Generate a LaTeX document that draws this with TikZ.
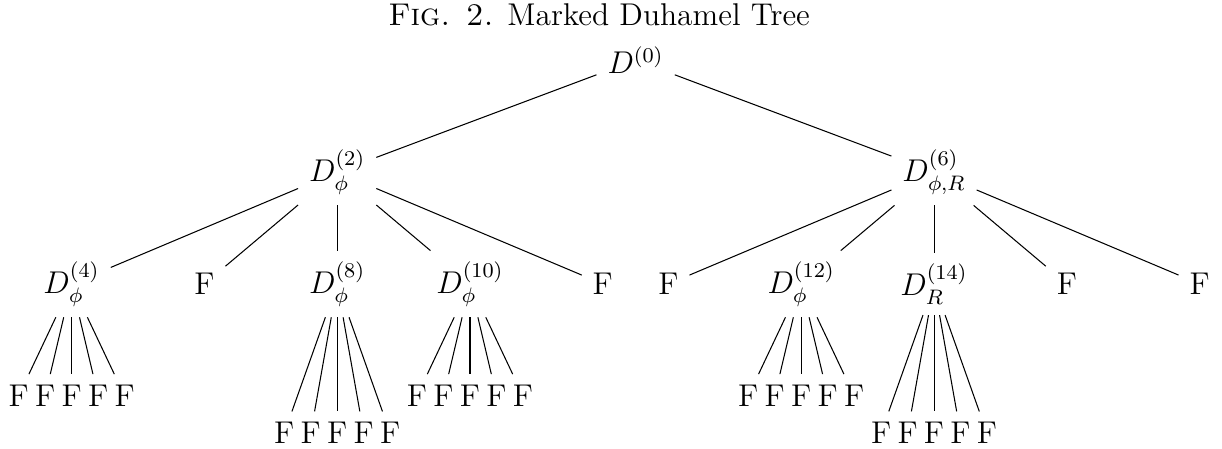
\documentclass[tikz,border=0pt,12pt]{standalone}
\usepackage{amsmath,amssymb}
\usepackage{tikz}
\usetikzlibrary{positioning}

\begin{document}
\begin{tikzpicture}[-,auto,node distance=1.5cm,thin]
  \tikzstyle{every node}=[text=black]
  \useasboundingbox (-8.52,-5.21) rectangle (7.86,0.806);

  \node (cap) at (-0.49,0.47) [anchor=base] {\textsc{Fig. 2.} Marked Duhamel Tree};

  \node (D0) at (0,0) {$D^{(0)}$};
  \node (D2) [below of=D0, xshift=-4cm] {$D^{(2)}_{\phi}$};
  \node (D6) [below of=D0, xshift=4cm] {$D^{(6)}_{\phi,R}$};

  \node (D4)  [below of=D2, xshift=-3.56cm] {$D^{(4)}_{\phi}$};
  \node (Fa)  [below of=D2, xshift=-1.78cm] {F};
  \node (D8)  [below of=D2] {$D^{(8)}_{\phi}$};
  \node (D10) [below of=D2, xshift=1.78cm] {$D^{(10)}_{\phi}$};
  \node (Fb)  [below of=D2, xshift=3.56cm] {F};

  \node (Fc)  [below of=D6, xshift=-3.56cm] {F};
  \node (D12) [below of=D6, xshift=-1.78cm] {$D^{(12)}_{\phi}$};
  \node (D14) [below of=D6] {$D^{(14)}_{R}$};
  \node (Fd)  [below of=D6, xshift=1.78cm] {F};
  \node (Fe)  [below of=D6, xshift=3.56cm] {F};

  \path (D0) edge (D2);
  \path (D0) edge (D6);
  \path (D2) edge (D4);
  \path (D2) edge (Fa);
  \path (D2) edge (D8);
  \path (D2) edge (D10);
  \path (D2) edge (Fb);
  \path (D6) edge (Fc);
  \path (D6) edge (D12);
  \path (D6) edge (D14);
  \path (D6) edge (Fd);
  \path (D6) edge (Fe);

  % five F leaves under each marked node
  \foreach \p/\d in {D4/1.5cm,D8/2cm,D10/1.5cm,D12/1.5cm,D14/2cm}
    \foreach \i/\dx in {1/-20.2pt,2/-10.1pt,3/0pt,4/10.1pt,5/20.2pt} {
      \node (\p-\i) [below of=\p, node distance=\d, xshift=\dx] {F};
      \path (\p) edge (\p-\i);
    }

\end{tikzpicture}
\end{document}
